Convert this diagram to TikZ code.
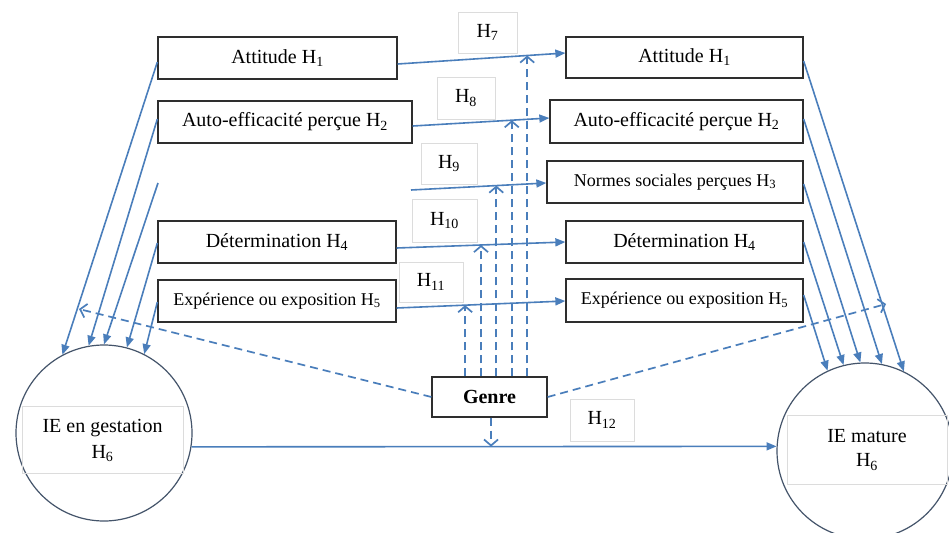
\documentclass[tikz,border=0pt]{standalone}
\usepackage{fontspec}
\setmainfont{Liberation Serif}
\usetikzlibrary{arrows.meta,calc}
\definecolor{arrowblue}{HTML}{4A7EBB}
\definecolor{boxgray}{HTML}{2E2E2E}
\definecolor{circlecol}{HTML}{44546A}
\definecolor{labgray}{HTML}{DCDCDC}
\begin{document}
\begin{tikzpicture}[x=1pt,y=-1pt,
  hbox/.style={draw=boxgray,line width=1.3pt,minimum height=42pt,inner sep=0pt,font=\fontsize{20}{24}\selectfont},
  sbox/.style={hbox,font=\fontsize{18}{22}\selectfont},
  labbox/.style={draw=labgray,line width=0.8pt,inner sep=0pt,font=\fontsize{20}{24}\selectfont},
  circ/.style={circle,draw=circlecol,line width=1.2pt,minimum size=176pt,inner sep=0pt},
  arr/.style={draw=arrowblue,line width=1.6pt,-{Triangle[length=10pt,width=8pt]}},
  dsh/.style={draw=arrowblue,line width=1.7pt,dash pattern=on 8pt off 5pt,-{Straight Barb[length=6pt,width=14pt]}}]
\path[fill=white] (0,0) rectangle (949,532);
\clip (0,0) rectangle (949,532);

% left boxes
\node[hbox,minimum width=239pt] (la) at (277.5,58) {Attitude H\textsubscript{1}};
\node[hbox,minimum width=254pt] (lb) at (285,122) {Auto-efficacité perçue H\textsubscript{2}};
\node[hbox,minimum width=238pt] (ld) at (277,242) {Détermination H\textsubscript{4}};
\node[sbox,minimum width=238pt] (le) at (277,301) {Expérience ou exposition H\textsubscript{5}};

% right boxes
\node[hbox,minimum width=237pt,minimum height=41pt] (ra) at (684.5,57.5) {Attitude H\textsubscript{1}};
\node[hbox,minimum width=253pt,minimum height=43pt] (rb) at (676.5,121.5) {Auto-efficacité perçue H\textsubscript{2}};
\node[sbox,minimum width=256pt] (rc) at (675,182) {Normes sociales perçues H\textsubscript{3}};
\node[hbox,minimum width=237pt] (rd) at (684.5,242) {Détermination H\textsubscript{4}};
\node[sbox,minimum width=237pt,minimum height=43pt] (re) at (684.5,300.5) {Expérience ou exposition H\textsubscript{5}};

% genre
\node[hbox,minimum width=115pt,minimum height=40pt,font=\fontsize{20}{24}\selectfont\bfseries] (gen) at (489.5,397) {Genre};

% circles
\node[circ] (lcirc) at (104,433) {};
\node[labbox,minimum width=161pt,minimum height=67pt,align=center,font=\fontsize{20}{26}\selectfont] (ltxt) at (102.5,440) {IE en gestation\\H\textsubscript{6}};
\node[circ] (rcirc) at (865,451) {};
\node[labbox,minimum width=160pt,minimum height=69pt,align=center,font=\fontsize{20}{24}\selectfont] (rtxt) at (867,450) {IE mature\\H\textsubscript{6}};

% hypothesis labels
\node[labbox,minimum width=59pt,minimum height=41pt] (h7) at (487.5,32.5) {H\textsubscript{7}};
\node[labbox,minimum width=58pt,minimum height=42pt] (h8) at (466,98) {H\textsubscript{8}};
\node[labbox,minimum width=56pt,minimum height=41pt] (h9) at (449,163.5) {H\textsubscript{9}};
\node[labbox,minimum width=65pt,minimum height=43pt] (h10) at (444.5,220.5) {H\textsubscript{10}};
\node[labbox,minimum width=64pt,minimum height=40pt] (h11) at (431,282) {H\textsubscript{11}};
\node[labbox,minimum width=64pt,minimum height=42pt] (h12) at (602,420) {H\textsubscript{12}};

% horizontal arrows
\draw[arr] ($(la.east)+(0,6)$) -- coordinate[pos=0.7725] (t7) ($(ra.west)+(0,-4.5)$);
\draw[arr] ($(lb.east)+(0,4)$) -- coordinate[pos=0.725] (t8) ($(rb.west)+(0,-3.5)$);
\coordinate (h9s) at (411,190);
\draw[arr] (h9s) -- coordinate[pos=0.63] (t9) ($(rc.west)+(0,1)$);
\draw[arr] ($(ld.east)+(0,6)$) -- coordinate[pos=0.5] (t10) (rd.west);
\draw[arr] ($(le.east)+(0,7)$) -- coordinate[pos=0.406] (t11) ($(re.west)+(0,0.5)$);
\draw[arr] (lcirc.351.5) -- coordinate[pos=0.512] (t12) (rcirc.177.4);

% genre moderation arrows
\draw[dsh] (gen.north -| t7) -- (t7);
\draw[dsh] (gen.north -| t8) -- (t8);
\draw[dsh] (gen.north -| t9) -- (t9);
\draw[dsh] (gen.north -| t10) -- (t10);
\draw[dsh] (gen.north -| t11) -- (t11);
\coordinate (gl) at (79,309);
\coordinate (gr) at (886,304);
\draw[dsh] (gen.west) -- (gl);
\draw[dsh] (gen.east) -- (gr);
\draw[dsh] (t12 |- gen.south) -- (t12);

% arrows into left circle
\coordinate (lf) at (158,183);
\draw[arr] ($(la.west)+(0,4)$) -- (lcirc.118.6);
\draw[arr] ($(lb.west)+(0,-3)$) -- (lcirc.100.5);
\draw[arr] (lf) -- (lcirc.90);
\draw[arr] ($(ld.west)+(0,1)$) -- (lcirc.75);
\draw[arr] ($(le.west)+(0,1)$) -- (lcirc.63);

% arrows into right circle
\draw[arr] ($(ra.east)+(0,3.5)$) -- (rcirc.64.3);
\draw[arr] ($(rb.east)+(0,-2.5)$) -- (rcirc.79);
\draw[arr] ($(rc.east)+(0,2)$) -- (rcirc.93);
\draw[arr] (rd.east) -- (rcirc.104);
\draw[arr] ($(re.east)+(0,-5.5)$) -- (rcirc.115.7);
\end{tikzpicture}
\end{document}
